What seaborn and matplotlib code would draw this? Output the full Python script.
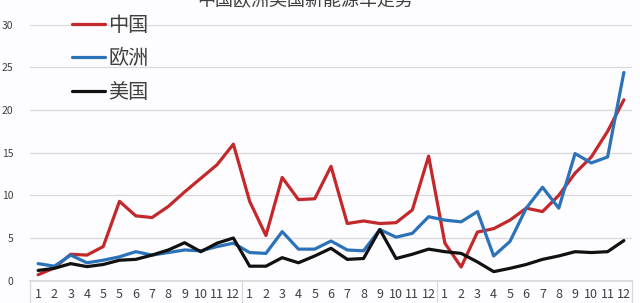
import numpy as np
import pandas as pd
import matplotlib
matplotlib.use("Agg")
import matplotlib.pyplot as plt
import seaborn as sns

months = ["1","2","3","4","5","5","6","7","8","9","10","11","12",
          "1","2","3","4","5","6","7","8","9","10","11","12",
          "1","2","3","4","5","6","7","8","9","10","11","12"]

china = [0.7, 1.5, 3.1, 3.0, 4.0, 9.3, 7.6, 7.4, 8.7, 10.4, 12.0, 13.6, 16.0,
         9.3, 5.3, 12.1, 9.5, 9.6, 13.4, 6.7, 7.0, 6.7, 6.8, 8.3, 14.6,
         4.4, 1.6, 5.7, 6.1, 7.1, 8.5, 8.1, 10.0, 12.6, 14.5, 17.5, 21.2]
europe = [2.0, 1.7, 3.0, 2.1, 2.4, 2.8, 3.4, 3.0, 3.3, 3.6, 3.5, 4.0, 4.4,
          3.3, 3.2, 5.75, 3.7, 3.7, 4.65, 3.6, 3.5, 6.0, 5.1, 5.55, 7.5,
          7.1, 6.9, 8.1, 2.9, 4.6, 8.5, 10.95, 8.5, 14.9, 13.8, 14.5, 24.4]
usa = [1.2, 1.45, 2.0, 1.65, 1.9, 2.4, 2.5, 3.0, 3.6, 4.45, 3.4, 4.4, 5.0,
       1.7, 1.7, 2.7, 2.1, 2.9, 3.8, 2.5, 2.6, 6.0, 2.6, 3.1, 3.7,
       3.4, 3.2, 2.2, 1.06, 1.45, 1.9, 2.5, 2.9, 3.4, 3.3, 3.4, 4.7]

series_names = ["中国", "欧洲", "美国"]
title = "中国欧洲美国新能源车走势"

idx = np.arange(len(months))
df = pd.concat([
    pd.DataFrame({"idx": idx, "value": china, "region": series_names[0]}),
    pd.DataFrame({"idx": idx, "value": europe, "region": series_names[1]}),
    pd.DataFrame({"idx": idx, "value": usa, "region": series_names[2]}),
])

sns.set_theme(style="white")
plt.rcParams["font.family"] = ["Noto Sans CJK SC", "DejaVu Sans"]

fig = plt.figure(figsize=(6.4, 3.03), dpi=100)
fig.patch.set_facecolor("#fdfcfe")
ax = fig.add_axes([30/640, (303-280.7)/303, 602/640, (280.7-24.7)/303])
ax.set_facecolor("#fdfcfe")

palette = {"中国": "#c3282b", "欧洲": "#2b72b8", "美国": "#111111"}
sns.lineplot(data=df, x="idx", y="value", hue="region", palette=palette,
             linewidth=2.3, ax=ax, legend=True)

ax.set_xlim(-0.5, len(months) - 0.5)
ax.set_ylim(0, 30)
ax.set_yticks([0, 5, 10, 15, 20, 25, 30])
ax.yaxis.grid(True, color="#d9d9d9", linewidth=0.9)
ax.set_axisbelow(True)
for s in ["top", "right", "left"]:
    ax.spines[s].set_visible(False)
ax.spines["bottom"].set_color("#d9d9d9")
ax.set_xticks(idx)
ax.set_xticklabels(months)
ax.tick_params(axis="x", length=0, pad=5, labelsize=9, colors="#404040")
ax.tick_params(axis="y", length=0, pad=12, labelsize=7.5, colors="#404040")
ax.set_xlabel("")
ax.set_ylabel("")

# group separators
for b in [-0.5, 12.5, 24.5, 36.5]:
    ax.plot([b, b], [0, -2.6], color="#d9d9d9", linewidth=0.9, clip_on=False)

leg = ax.legend(loc="upper left", bbox_to_anchor=(0.04, 1.11), frameon=False,
                fontsize=14.5, handlelength=1.65, handletextpad=0.15,
                labelspacing=0.62, labelcolor="#404040")
for line in leg.get_lines():
    line.set_linewidth(2.3)

fig.text(0.477, 0.995, title, ha="center", va="center", fontsize=13, color="#404040")

fig.savefig("out.png", dpi=100, facecolor=fig.get_facecolor())
